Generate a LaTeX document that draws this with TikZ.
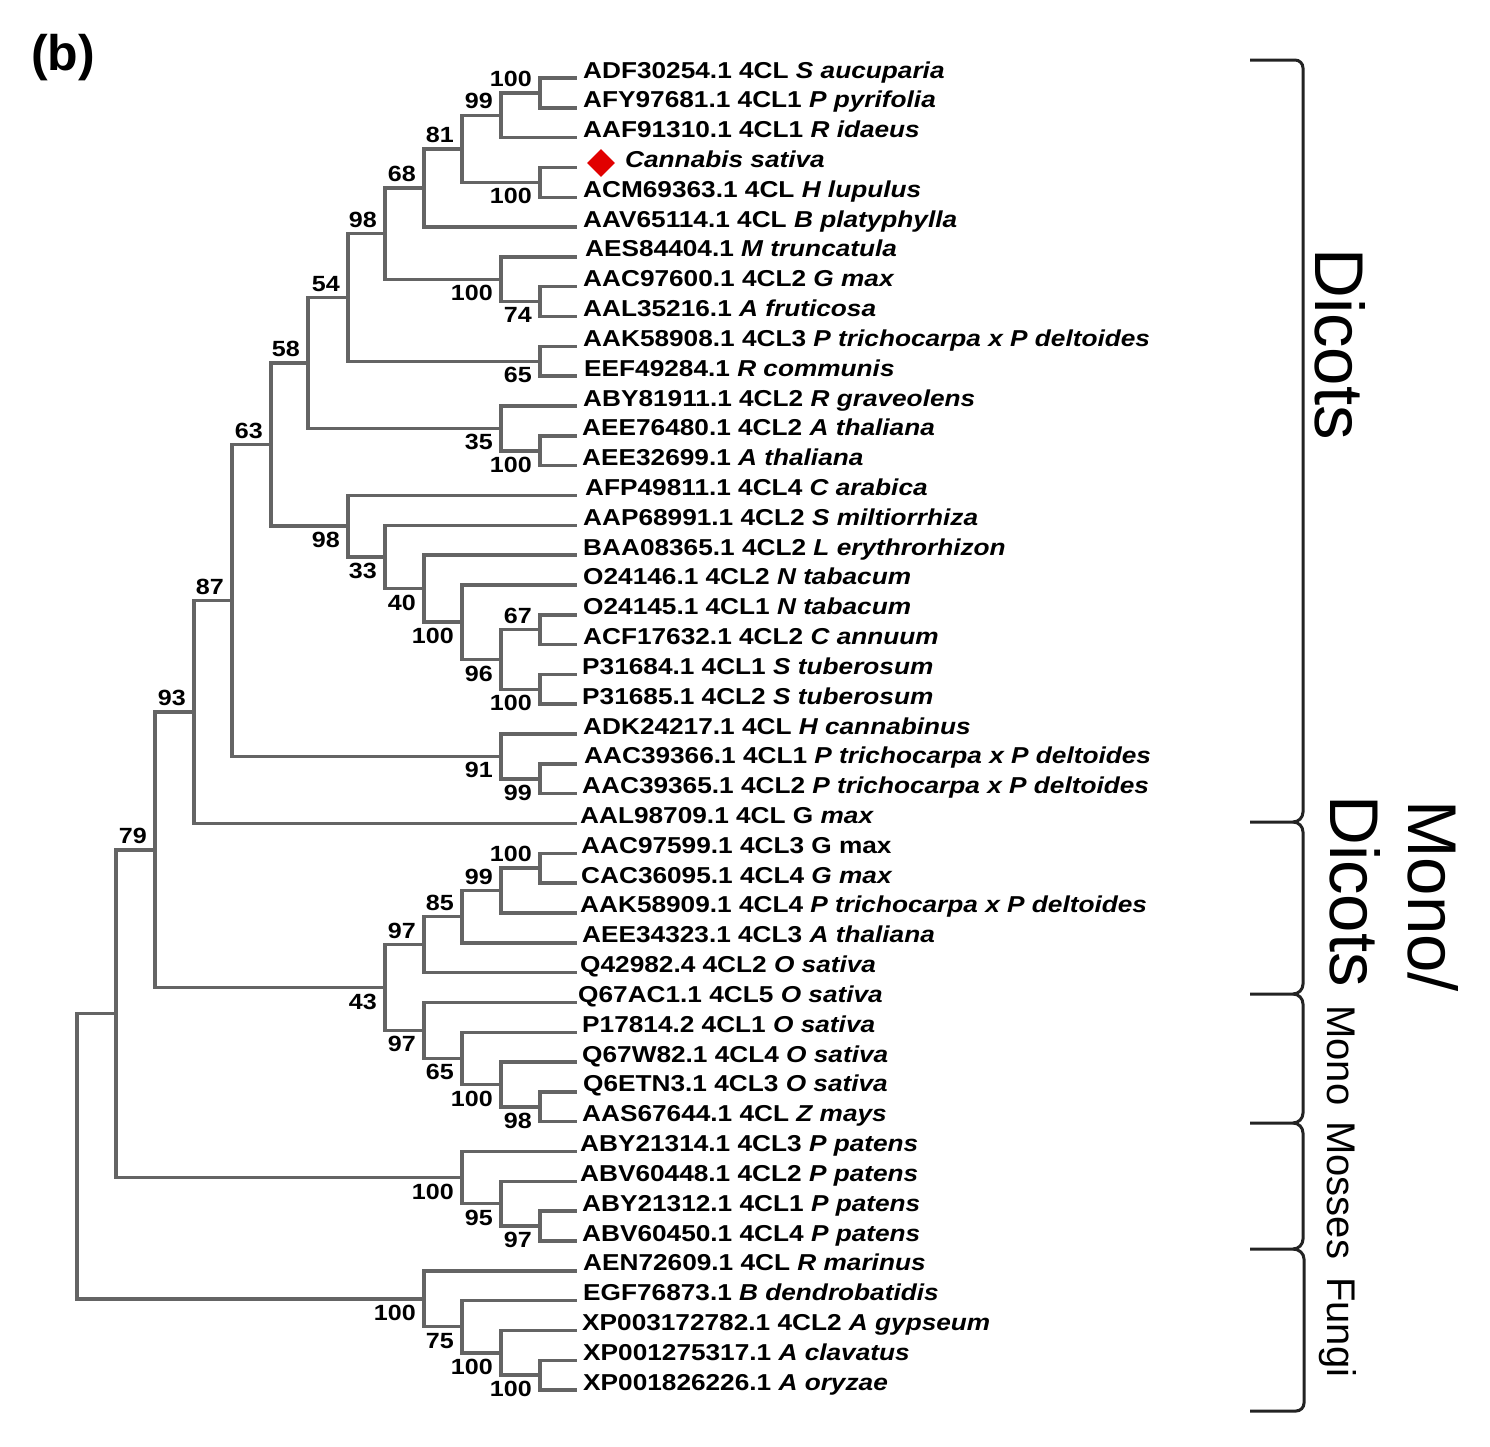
\documentclass[tikz,border=0pt]{standalone}
\usepackage{fontspec}
\setmainfont{Liberation Sans}
\newfontfamily\treefont{Liberation Sans}[FakeStretch=1.14]
\usetikzlibrary{shapes.geometric}
\definecolor{branchgray}{RGB}{100,100,100}
\definecolor{brackdark}{RGB}{35,35,35}
\definecolor{markred}{RGB}{225,0,0}
\tikzset{
  br/.style={draw=branchgray, line width=3.5pt},
  brk/.style={draw=brackdark, line width=3pt},
  leaf/.style={anchor=base west, inner sep=0pt, font=\treefont\bfseries\fontsize{23}{27}\selectfont},
  bsa/.style={anchor=south east, inner sep=0pt, xshift=-8pt, yshift=6pt, font=\treefont\bfseries\fontsize{22}{26}\selectfont},
  bsb/.style={anchor=north east, inner sep=0pt, xshift=-8pt, yshift=-6pt, font=\treefont\bfseries\fontsize{22}{26}\selectfont},
  grpbig/.style={rotate=-90, anchor=base west, inner sep=0pt, font=\fontsize{69}{80}\selectfont},
  grpsmall/.style={rotate=-90, anchor=base west, inner sep=0pt, font=\fontsize{40}{48}\selectfont}
}
\begin{document}
\begin{tikzpicture}[x=1pt, y=-1pt]
\useasboundingbox (0,0) rectangle (1490,1446);
\node[anchor=base west, inner sep=0pt, font=\bfseries\fontsize{50}{60}\selectfont] (panel) at (31,70) {(b)};

\begin{scope}[yshift=-48.18pt, y=-29.82pt]
  % leaf tips
  \foreach \i in {1,...,45} \coordinate (l\i) at (577,\i);
  % internal nodes
  \coordinate (a1) at (540,1.5);
  \coordinate (a2) at (501,2.25);
  \coordinate (a3) at (540,4.5);
  \coordinate (a4) at (462,3.375);
  \coordinate (a5) at (424,4.6875);
  \coordinate (a6) at (540,8.5);
  \coordinate (a7) at (501,7.75);
  \coordinate (a8) at (385,6.21875);
  \coordinate (a9) at (540,10.5);
  \coordinate (a10) at (348,8.359375);
  \coordinate (a11) at (540,13.5);
  \coordinate (a12) at (501,12.75);
  \coordinate (a13) at (308,10.5546875);
  \coordinate (b1) at (540,19.5);
  \coordinate (b2) at (540,21.5);
  \coordinate (b3) at (501,20.5);
  \coordinate (b4) at (462,19.25);
  \coordinate (b5) at (424,18.125);
  \coordinate (b6) at (385,17.0625);
  \coordinate (b7) at (348,16.03125);
  \coordinate (a14) at (271,13.29296875);
  \coordinate (c1) at (540,24.5);
  \coordinate (c2) at (501,23.75);
  \coordinate (a15) at (232,18.521484);
  \coordinate (a16) at (194,22.260742);
  \coordinate (d1) at (540,27.5);
  \coordinate (d2) at (501,28.25);
  \coordinate (d3) at (462,29.125);
  \coordinate (d4) at (424,30.0625);
  \coordinate (e1) at (540,35.5);
  \coordinate (e2) at (501,34.75);
  \coordinate (e3) at (462,33.875);
  \coordinate (e4) at (424,32.9375);
  \coordinate (d5) at (385,31.5);
  \coordinate (a17) at (155,26.880371);
  \coordinate (f1) at (540,39.5);
  \coordinate (f2) at (501,38.75);
  \coordinate (f3) at (462,37.875);
  \coordinate (g) at (116,32.377686);
  \coordinate (h1) at (540,44.5);
  \coordinate (h2) at (501,43.75);
  \coordinate (h3) at (462,42.875);
  \coordinate (h4) at (424,41.9375);
  \coordinate (root) at (77,37.157593);

  % branches
  \foreach \p/\c in {a1/l1,a1/l2,a2/a1,a2/l3,a3/l4,a3/l5,a4/a2,a4/a3,a5/a4,a5/l6,
      a6/l8,a6/l9,a7/l7,a7/a6,a8/a5,a8/a7,a9/l10,a9/l11,a10/a8,a10/a9,
      a11/l13,a11/l14,a12/l12,a12/a11,a13/a10,a13/a12,
      b1/l19,b1/l20,b2/l21,b2/l22,b3/b1,b3/b2,b4/l18,b4/b3,b5/l17,b5/b4,
      b6/l16,b6/b5,b7/l15,b7/b6,a14/a13,a14/b7,
      c1/l24,c1/l25,c2/l23,c2/c1,a15/a14,a15/c2,a16/a15,a16/l26,
      d1/l27,d1/l28,d2/d1,d2/l29,d3/d2,d3/l30,d4/d3,d4/l31,
      e1/l35,e1/l36,e2/l34,e2/e1,e3/l33,e3/e2,e4/l32,e4/e3,d5/d4,d5/e4,
      a17/a16,a17/d5,f1/l39,f1/l40,f2/l38,f2/f1,f3/l37,f3/f2,g/a17,g/f3,
      h1/l44,h1/l45,h2/l43,h2/h1,h3/l42,h3/h2,h4/l41,h4/h3,root/g,root/h4}
    \draw[br] (\p) |- (\c);

  % bootstrap values
  \foreach \n/\v in {a1/100,a2/99,a4/81,a5/68,a8/98,a10/54,a13/58,b1/67,a14/63,
      a15/87,a16/93,d1/100,d2/99,d3/85,d4/97,a17/79}
    \node[bsa] (v-\n) at (\n) {\v};
  \foreach \n/\v in {a3/100,a6/74,a7/100,a9/65,a11/100,a12/35,b2/100,b3/96,b4/100,
      b5/40,b6/33,b7/98,c1/99,c2/91,e1/98,e2/100,e3/65,e4/97,d5/43,f1/97,f2/95,
      f3/100,h1/100,h2/100,h3/75,h4/100}
    \node[bsb] (v-\n) at (\n) {\v};

  % leaf labels
  \node[leaf] (t1) at (583,1) {ADF30254.1 4CL \textit{S aucuparia}};
  \node[leaf] (t2) at (583,2) {AFY97681.1 4CL1 \textit{P pyrifolia}};
  \node[leaf] (t3) at (583,3) {AAF91310.1 4CL1 \textit{R idaeus}};
  \node[diamond, fill=markred, inner sep=0pt, minimum width=28pt, minimum height=28pt] (dm) at (601,3.85) {};
  \node[leaf] (t4) at (625,4) {\textit{Cannabis sativa}};
  \node[leaf] (t5) at (583,5) {ACM69363.1 4CL \textit{H lupulus}};
  \node[leaf] (t6) at (583,6) {AAV65114.1 4CL \textit{B platyphylla}};
  \node[leaf] (t7) at (585,7) {AES84404.1 \textit{M truncatula}};
  \node[leaf] (t8) at (583,8) {AAC97600.1 4CL2 \textit{G max}};
  \node[leaf] (t9) at (583,9) {AAL35216.1 \textit{A fruticosa}};
  \node[leaf] (t10) at (583,10) {AAK58908.1 4CL3 \textit{P trichocarpa x P deltoides}};
  \node[leaf] (t11) at (584,11) {EEF49284.1 \textit{R communis}};
  \node[leaf] (t12) at (583,12) {ABY81911.1 4CL2 \textit{R graveolens}};
  \node[leaf] (t13) at (582,13) {AEE76480.1 4CL2 \textit{A thaliana}};
  \node[leaf] (t14) at (582,14) {AEE32699.1 \textit{A thaliana}};
  \node[leaf] (t15) at (585,15) {AFP49811.1 4CL4 \textit{C arabica}};
  \node[leaf] (t16) at (583,16) {AAP68991.1 4CL2 \textit{S miltiorrhiza}};
  \node[leaf] (t17) at (583,17) {BAA08365.1 4CL2 \textit{L erythrorhizon}};
  \node[leaf] (t18) at (583,18) {O24146.1 4CL2 \textit{N tabacum}};
  \node[leaf] (t19) at (583,19) {O24145.1 4CL1 \textit{N tabacum}};
  \node[leaf] (t20) at (583,20) {ACF17632.1 4CL2 \textit{C annuum}};
  \node[leaf] (t21) at (582,21) {P31684.1 4CL1 \textit{S tuberosum}};
  \node[leaf] (t22) at (582,22) {P31685.1 4CL2 \textit{S tuberosum}};
  \node[leaf] (t23) at (583,23) {ADK24217.1 4CL \textit{H cannabinus}};
  \node[leaf] (t24) at (584,24) {AAC39366.1 4CL1 \textit{P trichocarpa x P deltoides}};
  \node[leaf] (t25) at (582,25) {AAC39365.1 4CL2 \textit{P trichocarpa x P deltoides}};
  \node[leaf] (t26) at (580,26) {AAL98709.1 4CL G \textit{max}};
  \node[leaf] (t27) at (581,27) {AAC97599.1 4CL3 G max};
  \node[leaf] (t28) at (581,28) {CAC36095.1 4CL4 \textit{G max}};
  \node[leaf] (t29) at (580,29) {AAK58909.1 4CL4 \textit{P trichocarpa x P deltoides}};
  \node[leaf] (t30) at (582,30) {AEE34323.1 4CL3 \textit{A thaliana}};
  \node[leaf] (t31) at (580,31) {Q42982.4 4CL2 \textit{O sativa}};
  \node[leaf] (t32) at (578,32) {Q67AC1.1 4CL5 \textit{O sativa}};
  \node[leaf] (t33) at (582,33) {P17814.2 4CL1 \textit{O sativa}};
  \node[leaf] (t34) at (582,34) {Q67W82.1 4CL4 \textit{O sativa}};
  \node[leaf] (t35) at (583,35) {Q6ETN3.1 4CL3 \textit{O sativa}};
  \node[leaf] (t36) at (582,36) {AAS67644.1 4CL \textit{Z mays}};
  \node[leaf] (t37) at (580,37) {ABY21314.1 4CL3 \textit{P patens}};
  \node[leaf] (t38) at (580,38) {ABV60448.1 4CL2 \textit{P patens}};
  \node[leaf] (t39) at (582,39) {ABY21312.1 4CL1 \textit{P patens}};
  \node[leaf] (t40) at (582,40) {ABV60450.1 4CL4 \textit{P patens}};
  \node[leaf] (t41) at (583,41) {AEN72609.1 4CL \textit{R marinus}};
  \node[leaf] (t42) at (583,42) {EGF76873.1 \textit{B dendrobatidis}};
  \node[leaf] (t43) at (582,43) {XP003172782.1 4CL2 \textit{A gypseum}};
  \node[leaf] (t44) at (583,44) {XP001275317.1 \textit{A clavatus}};
  \node[leaf] (t45) at (583,45) {XP001826226.1 \textit{A oryzae}};
\end{scope}

% group brackets
\draw[brk] (1250,60) -- (1295,60) to[out=0,in=90] (1303,68) -- (1303,812) to[out=-90,in=0] (1293,822) -- (1250,822);
\draw[brk] (1293,822) to[out=0,in=90] (1303,832) -- (1303,984) to[out=-90,in=0] (1293,994) -- (1250,994);
\draw[brk] (1293,994) to[out=0,in=90] (1303,1004) -- (1303,1113) to[out=-90,in=0] (1293,1123) -- (1250,1123);
\draw[brk] (1293,1123) to[out=0,in=90] (1303,1133) -- (1303,1239) to[out=-90,in=0] (1293,1249) -- (1250,1249);
\draw[brk] (1293,1249) to[out=0,in=90] (1304,1259) -- (1304,1403) to[out=-90,in=0] (1296,1411) -- (1250,1411);

% group labels
\node[grpbig] (g-dicots) at (1315,248) {Dicots};
\node[grpbig] (g-mono1) at (1408,800) {Mono/};
\node[grpbig] (g-dicots2) at (1330,795) {Dicots};
\node[grpsmall] (g-mono) at (1327,1005) {Mono};
\node[grpsmall] (g-mosses) at (1327,1121) {Mosses};
\node[grpsmall] (g-fungi) at (1327,1277) {Fungi};
\end{tikzpicture}
\end{document}
